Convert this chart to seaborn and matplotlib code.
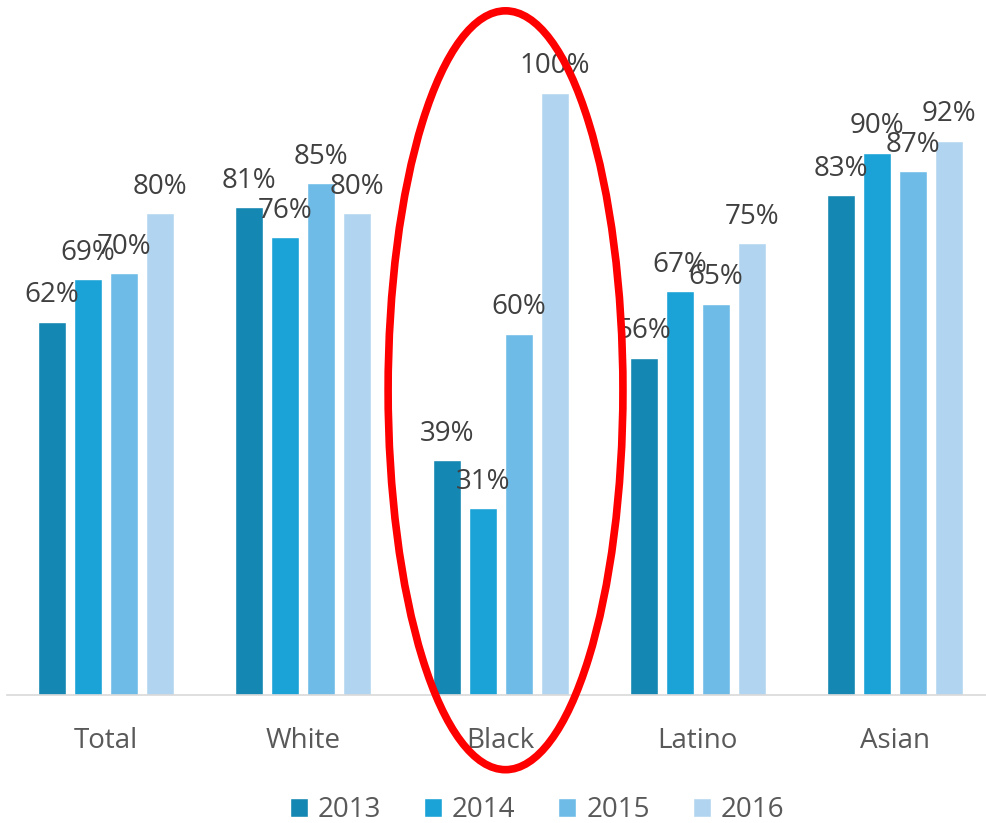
import matplotlib
matplotlib.use("Agg")
import matplotlib.pyplot as plt
from matplotlib.patches import Ellipse
import seaborn as sns
import pandas as pd

groups = ["Total", "White", "Black", "Latino", "Asian"]
years = ["2013", "2014", "2015", "2016"]
v2013 = [62, 81, 39, 56, 83]
v2014 = [69, 76, 31, 67, 90]
v2015 = [70, 85, 60, 65, 87]
v2016 = [80, 80, 100, 75, 92]
year_colors = ["#1487B2", "#1BA2D7", "#6EBBE8", "#B1D5F0"]

rows = []
for year, vals in zip(years, [v2013, v2014, v2015, v2016]):
    for g, v in zip(groups, vals):
        rows.append({"group": g, "year": year, "value": v})
df = pd.DataFrame(rows)

sns.set_style("white")
plt.rcParams["font.family"] = ["Open Sans", "DejaVu Sans"]

fig = plt.figure(figsize=(9.86, 8.23), dpi=100)
ax = fig.add_axes([7.3 / 986, 128 / 823, 1 - 7.3 / 986, 695 / 823])

sns.barplot(data=df, x="group", y="value", hue="year", order=groups,
            hue_order=years, palette=year_colors, width=0.73, gap=0.22,
            saturation=1, ax=ax, legend=True)

for cont in ax.containers:
    ax.bar_label(cont, labels=[f"{int(b.get_height())}%" for b in cont],
                 padding=9, fontsize=20, color="#404040")

ax.set_xlim(-0.5, 4.46)
ax.set_ylim(0, 115.4)
ax.set_xlabel("")
ax.set_ylabel("")
ax.set_yticks([])
ax.tick_params(axis="x", length=0, pad=23, labelsize=20, labelcolor="#595959")
for s in ["top", "left", "right"]:
    ax.spines[s].set_visible(False)
ax.spines["bottom"].set_color("#D9D9D9")
ax.spines["bottom"].set_linewidth(1.2)

# red circle around the Black group
ax.add_patch(Ellipse((2.025, 50.6), width=1.19, height=126.0, fill=False,
                     edgecolor="#FF0000", linewidth=5.5, clip_on=False, zorder=5))

handles, labels = ax.get_legend_handles_labels()
ax.legend_.remove()
fig.legend(handles, labels, loc="center", bbox_to_anchor=(537 / 986, 13 / 823),
           ncol=4, frameon=False, fontsize=20, labelcolor="#595959",
           handlelength=0.65, handleheight=0.65, handletextpad=0.35,
           columnspacing=1.55)

fig.savefig("out.png", dpi=100)
